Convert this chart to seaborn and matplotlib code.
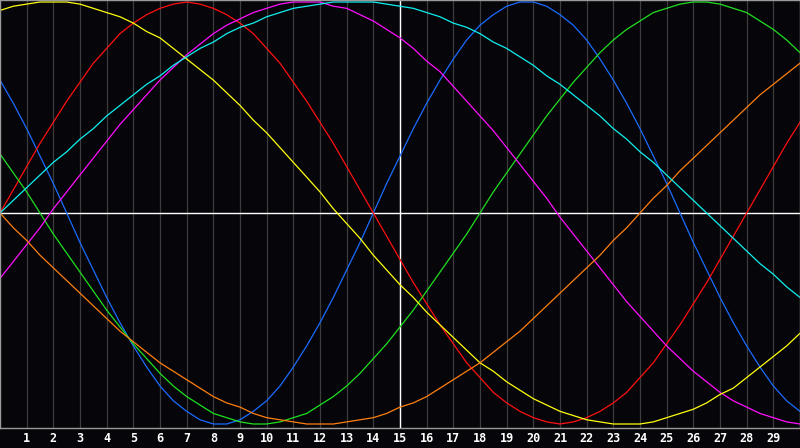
import numpy as np
import pandas as pd
import matplotlib
matplotlib.use("Agg")
import matplotlib.pyplot as plt
import seaborn as sns

# half-day positions from day 0 to day 30, labels for days 1..29
days = [i * 0.5 for i in range(61)]
day_labels = [str(d) for d in range(1, 30)]

# cycle values, one value every half day
physical = [0.63, 0.52, 0.40, 0.27, 0.14, 0.00, -0.14, -0.27, -0.40, -0.52,
            -0.63, -0.73, -0.82, -0.89, -0.94, -0.98, -1.00, -1.00, -0.98, -0.94,
            -0.89, -0.82, -0.73, -0.63, -0.52, -0.40, -0.27, -0.14, 0.00, 0.14,
            0.27, 0.40, 0.52, 0.63, 0.73, 0.82, 0.89, 0.94, 0.98, 1.00,
            1.00, 0.98, 0.94, 0.89, 0.82, 0.73, 0.63, 0.52, 0.40, 0.27,
            0.14, 0.00, -0.14, -0.27, -0.40, -0.52, -0.63, -0.73, -0.82, -0.89,
            -0.94]
emotional = [0.00, 0.11, 0.22, 0.33, 0.43, 0.53, 0.62, 0.71, 0.78, 0.85,
             0.90, 0.94, 0.97, 0.99, 1.00, 0.99, 0.97, 0.94, 0.90, 0.85,
             0.78, 0.71, 0.62, 0.53, 0.43, 0.33, 0.22, 0.11, 0.00, -0.11,
             -0.22, -0.33, -0.43, -0.53, -0.62, -0.71, -0.78, -0.85, -0.90, -0.94,
             -0.97, -0.99, -1.00, -0.99, -0.97, -0.94, -0.90, -0.85, -0.78, -0.71,
             -0.62, -0.53, -0.43, -0.33, -0.22, -0.11, 0.00, 0.11, 0.22, 0.33,
             0.43]
intellectual = [0.28, 0.19, 0.10, 0.00, -0.10, -0.19, -0.28, -0.37, -0.46, -0.54,
                -0.62, -0.69, -0.76, -0.82, -0.87, -0.91, -0.95, -0.97, -0.99, -1.00,
                -1.00, -0.99, -0.97, -0.95, -0.91, -0.87, -0.82, -0.76, -0.69, -0.62,
                -0.54, -0.46, -0.37, -0.28, -0.19, -0.10, 0.00, 0.10, 0.19, 0.28,
                0.37, 0.46, 0.54, 0.62, 0.69, 0.76, 0.82, 0.87, 0.91, 0.95,
                0.97, 0.99, 1.00, 1.00, 0.99, 0.97, 0.95, 0.91, 0.87, 0.82,
                0.76]
intuitive = [-0.31, -0.23, -0.15, -0.07, 0.02, 0.10, 0.18, 0.26, 0.34, 0.42,
             0.49, 0.56, 0.63, 0.69, 0.75, 0.80, 0.85, 0.89, 0.92, 0.95,
             0.97, 0.99, 1.00, 1.00, 1.00, 0.98, 0.97, 0.94, 0.91, 0.87,
             0.83, 0.78, 0.72, 0.67, 0.60, 0.53, 0.46, 0.39, 0.31, 0.23,
             0.15, 0.07, -0.02, -0.10, -0.18, -0.26, -0.34, -0.42, -0.49, -0.56,
             -0.63, -0.69, -0.75, -0.80, -0.85, -0.89, -0.92, -0.95, -0.97, -0.99,
             -1.00]
aesthetic = [0.96, 0.98, 0.99, 1.00, 1.00, 1.00, 0.99, 0.97, 0.95, 0.93,
             0.90, 0.86, 0.83, 0.78, 0.73, 0.68, 0.63, 0.57, 0.51, 0.44,
             0.38, 0.31, 0.24, 0.17, 0.10, 0.02, -0.05, -0.12, -0.20, -0.27,
             -0.34, -0.40, -0.47, -0.53, -0.59, -0.65, -0.71, -0.75, -0.80, -0.84,
             -0.88, -0.91, -0.94, -0.96, -0.98, -0.99, -1.00, -1.00, -1.00, -0.99,
             -0.97, -0.95, -0.93, -0.90, -0.86, -0.83, -0.78, -0.73, -0.68, -0.63,
             -0.57]
awareness = [0.00, -0.07, -0.13, -0.20, -0.26, -0.32, -0.38, -0.44, -0.50, -0.56,
             -0.61, -0.66, -0.71, -0.75, -0.79, -0.83, -0.87, -0.90, -0.92, -0.95,
             -0.97, -0.98, -0.99, -1.00, -1.00, -1.00, -0.99, -0.98, -0.97, -0.95,
             -0.92, -0.90, -0.87, -0.83, -0.79, -0.75, -0.71, -0.66, -0.61, -0.56,
             -0.50, -0.44, -0.38, -0.32, -0.26, -0.20, -0.13, -0.07, 0.00, 0.07,
             0.13, 0.20, 0.26, 0.32, 0.38, 0.44, 0.50, 0.56, 0.61, 0.66,
             0.71]
spiritual = [0.00, 0.06, 0.12, 0.18, 0.24, 0.29, 0.35, 0.40, 0.46, 0.51,
             0.56, 0.61, 0.65, 0.70, 0.74, 0.78, 0.81, 0.85, 0.88, 0.90,
             0.93, 0.95, 0.97, 0.98, 0.99, 1.00, 1.00, 1.00, 1.00, 0.99,
             0.98, 0.97, 0.95, 0.93, 0.90, 0.88, 0.85, 0.81, 0.78, 0.74,
             0.70, 0.65, 0.61, 0.56, 0.51, 0.46, 0.40, 0.35, 0.29, 0.24,
             0.18, 0.12, 0.06, 0.00, -0.06, -0.12, -0.18, -0.24, -0.29, -0.35,
             -0.40]

series = {
    "Physical": physical,
    "Emotional": emotional,
    "Intellectual": intellectual,
    "Intuitive": intuitive,
    "Aesthetic": aesthetic,
    "Awareness": awareness,
    "Spiritual": spiritual,
}
colors = {
    "Physical": "#1a6cff",
    "Emotional": "#ff1010",
    "Intellectual": "#20e020",
    "Intuitive": "#ff10ff",
    "Aesthetic": "#ffff10",
    "Awareness": "#ff8010",
    "Spiritual": "#10f0f0",
}

df = pd.concat(
    [pd.DataFrame({"day": days, "value": vals, "cycle": name}) for name, vals in series.items()],
    ignore_index=True,
)

BG = "#060509"

fig = plt.figure(figsize=(8, 4.48), dpi=100, facecolor=BG)
ax = fig.add_axes([0, 20 / 448, 1, 428 / 448])
ax.set_facecolor(BG)

# day grid
for d in range(1, 30):
    ax.axvline(d, color="#3c3c3c", lw=0.9, zorder=1)
ax.axvline(15, color="white", lw=1.0, zorder=1.5)
ax.axhline(0, color="white", lw=1.0, zorder=1.5)

sns.lineplot(data=df, x="day", y="value", hue="cycle", palette=colors,
             linewidth=0.9, legend=False, ax=ax, zorder=2)

ax.set_xlim(0, 30)
ax.set_ylim(-(428 - 213) / 211, 213 / 211)
ax.set_xticks(range(1, 30))
ax.set_xticklabels(day_labels)
ax.set_yticks([])
ax.set_xlabel("")
ax.set_ylabel("")
ax.tick_params(axis="x", length=0, pad=3, colors="white")
for lbl in ax.get_xticklabels():
    lbl.set_fontfamily("DejaVu Sans Mono")
    lbl.set_fontweight("bold")
    lbl.set_fontsize(8.5)
for sp in ax.spines.values():
    sp.set_color("#9a9a9a")
    sp.set_linewidth(1.0)

fig.savefig("out.png", dpi=100, facecolor=BG)
